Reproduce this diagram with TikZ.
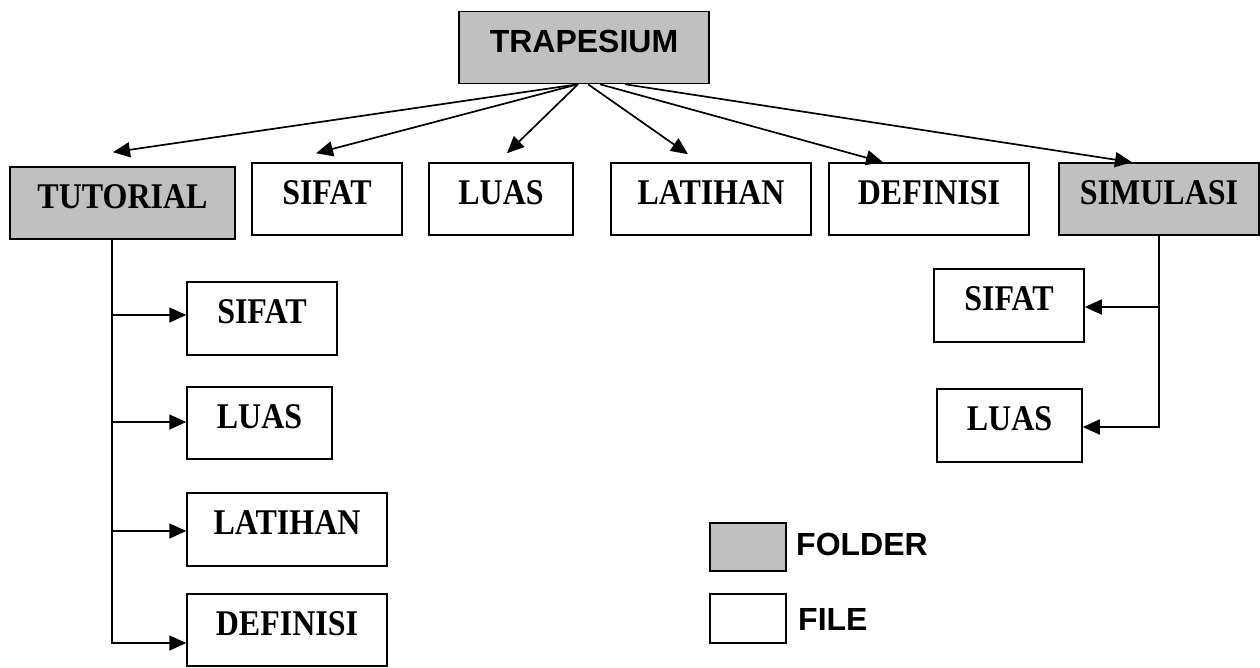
\documentclass[tikz,border=0pt]{standalone}
\usepackage{fontspec}
\usepackage{graphicx}
\setmainfont{Liberation Serif}
\newfontfamily\arialfont{Liberation Sans}
\usetikzlibrary{arrows.meta}
\definecolor{foldergray}{HTML}{C0C0C0}
\newcommand{\tallcaps}[1]{\scalebox{1}[1.13]{#1}}

\begin{document}
\begin{tikzpicture}[x=1pt,y=-1pt]
\tikzstyle{folder} = [rectangle, draw=black, line width=1.5pt, fill=foldergray,
font=\fontsize{32}{36}\selectfont\bfseries, text height=22pt, text depth=12pt,
minimum height=72pt, inner sep=0pt]
\tikzstyle{file} = [folder, fill=white]
\tikzstyle{line} = [draw, line width=1.7pt]
\tikzstyle{arrow} = [line, -{Triangle[length=17pt 0,width=15pt 0]}]
\tikzstyle{legend} = [anchor=base west, inner sep=0pt,
font=\fontsize{32}{36}\selectfont\bfseries\arialfont]
\useasboundingbox (0,0) rectangle (1260,667);
% top
\node [folder, minimum width=250pt] (trap) at (584,47.5) {\arialfont TRAPESIUM};
% row 1
\node [folder, minimum width=225pt] (tut) at (122.5,203) {\tallcaps{TUTORIAL}};
\node [file, minimum width=150pt] (sifat) at (327,199) {\tallcaps{SIFAT}};
\node [file, minimum width=144pt] (luas) at (501,199) {\tallcaps{LUAS}};
\node [file, minimum width=200pt] (latihan) at (711,199) {\tallcaps{LATIHAN}};
\node [file, minimum width=200pt] (definisi) at (929,199) {\tallcaps{DEFINISI}};
\node [folder, minimum width=200pt] (sim) at (1159,199) {\tallcaps{SIMULASI}};
% tutorial
\node [file, minimum width=150pt, minimum height=73pt] (tsifat) at (262,318.5) {\tallcaps{SIFAT}};
\node [file, minimum width=145pt] (tluas) at (259.5,423) {\tallcaps{LUAS}};
\node [file, minimum width=200pt, minimum height=73pt] (tlatihan) at (287,529.5) {\tallcaps{LATIHAN}};
\node [file, minimum width=200pt] (tdefinisi) at (287,630) {\tallcaps{DEFINISI}};
% simulasi
\node [file, minimum width=150pt, minimum height=73pt] (ssifat) at (1009,305.5) {\tallcaps{SIFAT}};
\node [file, minimum width=145pt, minimum height=73pt] (sluas) at (1009.5,425.5) {\tallcaps{LUAS}};
% legend
\node [folder, minimum width=76pt, minimum height=48pt] (kfolder) at (748,547) {};
\node [file, minimum width=76pt, minimum height=49pt] (kfile) at (748,618.5) {};
\node [legend] (tfolder) at (796,555) {FOLDER};
\node [legend] (tfile) at (798,630) {FILE};

\path[arrow] ([xshift=-6pt]trap.south) -- ([xshift=-9.5pt,yshift=14pt]tut.north);
\path[arrow] ([xshift=-6pt]trap.south) -- ([xshift=-11pt,yshift=9pt]sifat.north);
\path[arrow] ([xshift=-6pt]trap.south) -- ([xshift=6pt,yshift=9pt]luas.north);
\path[arrow] ([xshift=4pt]trap.south) -- ([xshift=-23pt,yshift=8pt]latihan.north);
\path[arrow] ([xshift=16pt]trap.south) -- ([xshift=-46pt]definisi.north);
\path[arrow] ([xshift=41pt]trap.south) -- ([xshift=-27pt]sim.north);

\coordinate (ttrunk) at ([xshift=-10.5pt]tut.south);
\path[arrow] (ttrunk) |- ([yshift=-13pt]tdefinisi.west);
\path[arrow] (ttrunk) |- ([yshift=3.5pt]tsifat.west);
\path[arrow] (ttrunk) |- ([yshift=1pt]tluas.west);
\path[arrow] (ttrunk) |- ([yshift=-1.5pt]tlatihan.west);

\path[arrow] (sim.south) |- ([yshift=-1.5pt]sluas.east);
\path[arrow] (sim.south) |- ([yshift=-1.5pt]ssifat.east);
\end{tikzpicture}
\end{document}
